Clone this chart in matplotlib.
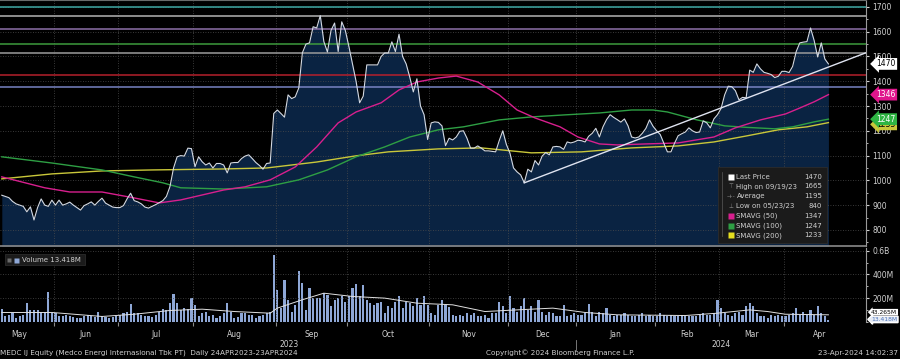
import numpy as np
import matplotlib
matplotlib.use("Agg")
import matplotlib.pyplot as plt
from matplotlib import transforms
from matplotlib.patches import Rectangle

# ---- data ----
months = ["May", "Jun", "Jul", "Aug", "Sep", "Oct", "Nov", "Dec", "Jan", "Feb", "Mar", "Apr"]
month_days = [15, 18, 21, 23, 20, 23, 22, 19, 22, 18, 18, 13]   # trading days shown
month_full = [19, 18, 21, 23, 20, 23, 22, 19, 22, 18, 18, 20]   # full month length (label centring)
years = ["2023", "2024"]

price = [
    # May
    940, 935, 930, 915, 905, 900, 895, 873, 893, 840, 890, 925, 900, 895, 920,
    # Jun
    900, 920, 900, 905, 912, 900, 890, 880, 898, 905, 913, 900, 915, 928, 908, 900, 892, 890,
    # Jul
    890, 898, 925, 948, 918, 913, 905, 892, 888, 895, 902, 910, 918, 935, 975, 1050, 1095, 1100,
    1098, 1130, 1128,
    # Aug
    1055, 1095, 1075, 1062, 1070, 1050, 1068, 1068, 1062, 1030, 1070, 1072, 1072, 1088, 1098, 1103,
    1088, 1072, 1060, 1045, 1068, 1070, 1270,
    # Sep
    1284, 1270, 1255, 1345, 1330, 1337, 1373, 1515, 1550, 1555, 1620, 1615, 1665, 1560, 1518, 1605,
    1635, 1520, 1640, 1605,
    # Oct
    1540, 1470, 1400, 1313, 1340, 1466, 1466, 1466, 1466, 1500, 1514, 1514, 1559, 1520, 1590, 1500,
    1470, 1417, 1357, 1410, 1300, 1265, 1165,
    # Nov
    1232, 1236, 1234, 1220, 1140, 1170, 1163, 1175, 1198, 1200, 1170, 1130, 1130, 1139, 1130, 1119,
    1119, 1117, 1115, 1160, 1200, 1145,
    # Dec
    1110, 1050, 1034, 1022, 990, 1045, 1034, 1080, 1062, 1098, 1112, 1103, 1135, 1137, 1135, 1125,
    1155, 1151, 1155,
    # Jan
    1162, 1160, 1155, 1178, 1190, 1210, 1175, 1216, 1245, 1265, 1254, 1245, 1235, 1248, 1220, 1175,
    1171, 1175, 1190, 1210, 1244, 1218,
    # Feb
    1200, 1185, 1150, 1115, 1115, 1150, 1180, 1188, 1195, 1212, 1200, 1193, 1195, 1240, 1232, 1212,
    1248, 1265,
    # Mar
    1290, 1345, 1380, 1378, 1362, 1325, 1335, 1333, 1445, 1436, 1470, 1450, 1436, 1432, 1427, 1415,
    1420, 1440,
    # Apr
    1440, 1435, 1460, 1520, 1555, 1558, 1560, 1615, 1565, 1498, 1555, 1490, 1470,
]

# volume in millions of shares
volume = [
    105, 43, 57, 71, 28, 48, 57, 156, 99, 94, 94, 85, 77, 255, 71,
    71, 43, 43, 57, 51, 37, 30, 28, 43, 57, 43, 40, 85, 43, 37, 28, 37, 43,
    57, 71, 85, 148, 71, 71, 57, 51, 43, 35, 57, 85, 105, 99, 156, 236, 156, 99, 114, 105, 199,
    142, 43, 71, 77, 43, 57, 28, 43, 71, 156, 85, 28, 40, 71, 71, 57, 57, 28, 43, 57, 71, 85, 568,
    270, 114, 355, 185, 85, 142, 426, 327, 99, 284, 199, 199, 199, 241, 227, 128, 185, 199, 213, 170,
    213, 284, 318, 213, 313, 185, 156, 142, 156, 170, 71, 128, 114, 170, 213, 114, 170, 156, 128,
    199, 142, 213, 142, 71, 57, 142, 185, 142, 120,
    57, 43, 57, 43, 71, 57, 71, 43, 51, 57, 28, 71, 71, 170, 128, 71, 213, 114, 85,
    128, 199, 99, 128, 85, 185, 85, 57, 85, 71, 43, 43, 142, 43, 57, 71, 57, 57, 71, 150, 85,
    43, 85, 71, 114, 57, 43, 57, 57, 71, 57, 43, 43, 57, 71, 43, 57, 43, 43, 71, 57, 43, 57, 43, 43,
    57, 43, 43, 43, 43, 57, 71, 57, 57, 71, 185, 114, 71, 57, 43, 71, 85, 57, 128, 156, 128, 71,
    43, 43, 28, 57, 43, 57, 43, 43, 57, 71, 114, 57, 85, 57, 99, 57, 128, 71, 50, 13.418,
]

sma50_day = [0, 12, 19, 28, 37, 44, 50, 56, 62, 68, 75, 82, 88, 94, 99, 106, 111, 116, 122, 127,
             133, 139, 144, 149, 156, 161, 167, 172, 180, 189, 199, 205, 212, 219, 223, 227, 231]
sma50 = [1014, 970, 953, 953, 929, 909, 921, 941, 961, 974, 1002, 1054, 1135, 1232, 1276, 1313, 1365,
         1397, 1413, 1421, 1397, 1345, 1284, 1252, 1216, 1175, 1147, 1143, 1147, 1151, 1175, 1212,
         1244, 1268, 1292, 1317, 1346]

sma100_day = [0, 14, 28, 37, 45, 50, 62, 74, 83, 91, 99, 107, 114, 122, 129, 139, 148, 157, 167,
              176, 182, 186, 194, 202, 208, 216, 221, 227, 231]
sma100 = [1095, 1070, 1042, 1014, 990, 970, 965, 974, 1002, 1042, 1095, 1135, 1175, 1204, 1216,
          1244, 1256, 1264, 1272, 1284, 1284, 1276, 1245, 1220, 1214, 1208, 1216, 1236, 1247]

sma200_day = [0, 14, 28, 42, 62, 74, 88, 99, 108, 122, 134, 148, 162, 176, 189, 199, 208, 217, 225, 231]
sma200 = [1006, 1026, 1038, 1042, 1046, 1050, 1074, 1099, 1115, 1127, 1131, 1111, 1115, 1131, 1139,
          1155, 1179, 1204, 1216, 1233]

vol_ma_day = [0, 14, 28, 37, 47, 56, 65, 75, 77, 84, 90, 98, 107, 116, 126, 135, 144, 154, 163,
              172, 191, 200, 209, 214, 219, 231]
vol_ma = [77, 77, 43, 62, 94, 105, 85, 71, 114, 185, 241, 213, 199, 156, 142, 85, 99, 114, 77,
          57, 51, 71, 99, 85, 62, 57]

levels = [1700, 1665, 1610, 1550, 1515, 1425, 1375]
level_colors = ["#3ea6a2", "#b4b4b4", "#8c6fa8", "#3d9b3d", "#9c9c9c", "#b5202c", "#7883c2"]

trend_day = [146, 241.5]
trend_price = [990, 1515]

price_ticks = [800, 900, 1000, 1100, 1200, 1300, 1400, 1500, 1600, 1700]
vol_ticks = [200, 400, 600]
vol_tick_labels = ["200M", "400M", "0.6B"]

legend_names = ["Last Price", "High on 09/19/23", "Average", "Low on 05/23/23",
                "SMAVG (50)", "SMAVG (100)", "SMAVG (200)"]
legend_values = ["1470", "1665", "1195", "840", "1347", "1247", "1233"]

c_price = "#d3d9e3"
c_fill = "#0a2342"
c_50 = "#d81f8e"
c_100 = "#2e9f44"
c_200 = "#c9c73a"
c_vol = "#8ea7d6"
c_text = "#d0d0d0"
c_grid = "#4c4c4c"

W, H = 900, 359
fig = plt.figure(figsize=(9, 3.59), dpi=100, facecolor="black")
ax = fig.add_axes([0, 1 - 246 / H, 866 / W, 246 / H], facecolor="black")
axv = fig.add_axes([0, 1 - 322 / H, 866 / W, 74 / H], facecolor="black", sharex=ax)

days = np.arange(len(price))
bounds = np.cumsum(month_days)[:-1] - 0.5
starts = np.concatenate([[-0.5], bounds])
centers = starts + np.array(month_full) / 2
centers[0] = bounds[0] - month_full[0] / 2

# ---- price panel ----
ax.fill_between(days, price, 600, color=c_fill, lw=0)
for lev, col in zip(levels, level_colors):
    ax.axhline(lev, color=col, lw=1.1)
ax.plot(sma200_day, sma200, color=c_200, lw=1)
ax.plot(sma100_day, sma100, color=c_100, lw=1)
ax.plot(sma50_day, sma50, color=c_50, lw=1)
ax.plot(days, price, color=c_price, lw=0.8)
ax.plot(trend_day, trend_price, color="#dfe3f0", lw=1)

ax.set_xlim(-0.5, 241.5)
ax.set_ylim(735, 1728)
ax.set_axisbelow("line")
ax.set_yticks(price_ticks)
ax.set_yticks(np.arange(750, 1750, 50), minor=True)
ax.set_xticks(bounds)
ax.grid(True, color=c_grid, ls=(0, (1, 2)), lw=0.6)
ax.yaxis.tick_right()
ax.tick_params(axis="y", which="both", colors=c_text, labelsize=5.5, length=2.5, pad=2)
ax.tick_params(axis="y", which="minor", length=1.5)
ax.tick_params(axis="x", length=0, labelbottom=False)
ax.spines["left"].set_visible(False)
ax.spines["right"].set_color("#9a9a9a")
ax.spines["top"].set_color("#6a6a6a")
ax.spines["bottom"].set_color("#8a8a8a")
ax.spines["bottom"].set_linewidth(1.2)

# value tags on the right axis
ytrans = transforms.blended_transform_factory(ax.transAxes, ax.transData)
tags = [(1226, "1233", c_200, "black"), (1247, "1247", "#2fb544", "white"),
        (1346, "1346", "#e0168c", "white"), (1470, "1470", "white", "black")]
for val, txt, fc, tc in tags:
    ax.text(1.012, val, txt, transform=ytrans, fontsize=5.5, color=tc, va="center", ha="left",
            clip_on=False, bbox=dict(boxstyle="larrow,pad=0.18", fc=fc, ec="none"))

# legend box
def ax_xy(px, py):
    return px / 866, 1 - py / 246

x0, y0 = ax_xy(718, 243)
x1, y1 = ax_xy(827, 167)
ax.add_patch(Rectangle((x0, y0), x1 - x0, y1 - y0, transform=ax.transAxes,
                       fc="#1b1b1b", ec="#2c2c2c", lw=0.6, zorder=5))
rows_py = [177, 186.5, 196, 206, 215.7, 225.7, 235.3]
markers = ["white", None, None, None, c_50, c_100, "#e8e020"]
glyphs = [None, "\u22a4", "-+-", "\u22a5", None, None, None]
for name, value, py, mcol, g in zip(legend_names, legend_values, rows_py, markers, glyphs):
    tx, ty = ax_xy(736.5, py)
    mx, _ = ax_xy(731, py)
    if mcol:
        ax.plot([mx], [ty], marker="s", ms=4.6, color=mcol, mec="none",
                transform=ax.transAxes, zorder=6)
    else:
        ax.text(mx, ty, g, transform=ax.transAxes, fontsize=4, color="#8a8a8a",
                ha="center", va="center", zorder=6)
    ax.text(tx, ty, name, transform=ax.transAxes, fontsize=5, color=c_text,
            va="center", ha="left", zorder=6)
    vx, _ = ax_xy(822, py)
    ax.text(vx, ty, value, transform=ax.transAxes, fontsize=5, color=c_text,
            va="center", ha="right", zorder=6)
lx, ly0 = ax_xy(722, 172)
_, ly1 = ax_xy(722, 236)
ax.plot([lx, lx], [ly0, ly1], color="#5a5a5a", lw=0.5, transform=ax.transAxes, zorder=6)

# ---- volume panel ----
axv.bar(days, volume, width=0.6, color=c_vol, lw=0)
axv.plot(vol_ma_day, vol_ma, color="#e0e0e0", lw=0.7)
axv.set_ylim(-4, 625)
axv.set_axisbelow("line")
axv.set_yticks(vol_ticks, labels=vol_tick_labels)
axv.set_yticks([0, 100, 300, 500], minor=True)
axv.set_xticks(bounds)
axv.set_xticks(centers, labels=months, minor=True)
axv.grid(True, which="major", color=c_grid, ls=(0, (1, 2)), lw=0.6)
axv.axhline(0, color=c_grid, ls=(0, (1, 2)), lw=0.6)
axv.yaxis.tick_right()
axv.tick_params(axis="y", which="both", colors=c_text, labelsize=5.5, length=2.5, pad=2)
axv.tick_params(axis="y", which="minor", length=1.5)
axv.tick_params(axis="x", which="major", colors="#8a8a8a", length=3, labelbottom=False)
axv.tick_params(axis="x", which="minor", colors=c_text, length=0, labelsize=5.5, pad=6)
axv.spines["left"].set_visible(False)
axv.spines["top"].set_visible(False)
axv.spines["bottom"].set_visible(False)
axv.spines["right"].set_color("#9a9a9a")

vtrans = transforms.blended_transform_factory(axv.transAxes, axv.transData)
axv.text(1.006, 80, "43.265M", transform=vtrans, fontsize=4.3, color="black", va="center",
         ha="left", clip_on=False, bbox=dict(boxstyle="larrow,pad=0.12", fc="white", ec="none"))
axv.text(1.006, 18, "13.418M", transform=vtrans, fontsize=4.3, color="#4d74b8", va="center",
         ha="left", clip_on=False, bbox=dict(boxstyle="larrow,pad=0.12", fc="#e6ecf6", ec="white"))

# volume legend
axv.add_patch(Rectangle((5 / 866, 1 - 17 / 74), 80 / 866, 11 / 74, transform=axv.transAxes,
                        fc="#1b1b1b", ec="#2c2c2c", lw=0.6, zorder=5))
axv.plot([9 / 866], [1 - 11.5 / 74], marker="s", ms=2.5, color="#6a6a6a", mec="none",
         transform=axv.transAxes, zorder=6)
axv.plot([15.5 / 866], [1 - 11.5 / 74], marker="s", ms=3.6, color=c_vol, mec="none",
         transform=axv.transAxes, zorder=6)
axv.text(21.5 / 866, 1 - 11.5 / 74, "Volume 13.418M", transform=axv.transAxes, fontsize=5,
         color=c_text, va="center", ha="left", zorder=6)

# year row under the months
xtrans = transforms.blended_transform_factory(axv.transData, axv.transAxes)
year_split = bounds[7]
axv.text((-0.5 + year_split) / 2 + 0.3, -0.3, years[0], transform=xtrans, fontsize=5.5,
         color=c_text, ha="center", va="center")
axv.text((year_split + 241.5) / 2, -0.3, years[1], transform=xtrans, fontsize=5.5,
         color=c_text, ha="center", va="center")
axv.plot([year_split, year_split], [-0.24, -0.38], color="#8a8a8a", lw=0.6,
         transform=xtrans, clip_on=False)

# footer
fig.text(0.0, 1 - 353 / H, "MEDC IJ Equity (Medco Energi Internasional Tbk PT)  Daily 24APR2023-23APR2024",
         fontsize=5.2, color=c_text, ha="left", va="center")
fig.text(560 / W, 1 - 353 / H, "Copyright\u00a9 2024 Bloomberg Finance L.P.",
         fontsize=5.2, color=c_text, ha="center", va="center")
fig.text(898 / W, 1 - 353 / H, "23-Apr-2024 14:02:37",
         fontsize=5.2, color=c_text, ha="right", va="center")

fig.savefig("out.png", dpi=100, facecolor="black")
